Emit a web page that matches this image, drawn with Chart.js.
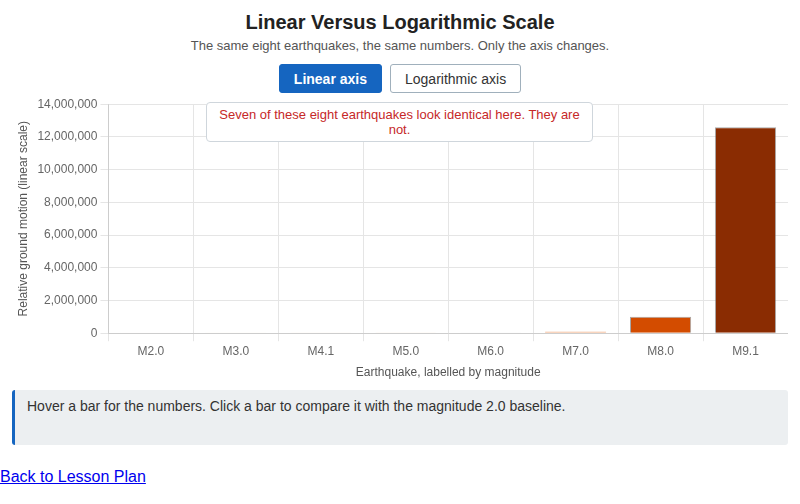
<!DOCTYPE html>
<html>
<head>
<meta charset="utf-8">
<script src="https://cdn.jsdelivr.net/npm/chart.js@4"></script>
<style>
  body { margin: 0; font-family: "Liberation Sans", Arial, sans-serif; color: #222; background: #fff; }
  .wrap { width: 776px; margin: 0 auto; padding: 0 12px; }
  h1 { font-size: 20px; margin: 10px 0 0; text-align: center; line-height: 24px; }
  .sub { font-size: 13px; color: #555; text-align: center; margin: 4px 0 0; line-height: 16px; }
  .btns { text-align: center; margin-top: 10px; height: 30px; }
  .btns button { font-family: inherit; font-size: 14px; height: 29px; padding: 0 14px; border-radius: 3px; margin: 0 4px; cursor: pointer; }
  .btns .on { background: #1565c0; color: #fff; border: 1px solid #1565c0; font-weight: bold; }
  .btns .off { background: #fff; color: #333; border: 1px solid #a0b0bc; }
  .chartBox { position: relative; height: 290px; margin-top: 0; }
  .note { position: absolute; left: 194px; top: 8px; width: 387px; box-sizing: border-box; background: #fff;
          border: 1px solid #cfd6dc; border-radius: 4px; color: #c62828; font-size: 13px; text-align: center;
          padding: 4px 10px; line-height: 15px; }
  .info { margin-top: 6px; background: #eceff1; border-left: 3px solid #1565c0; border-radius: 3px;
          font-size: 14px; color: #333; padding: 8px 12px 8px; height: 39px; }
  a { display: block; margin-top: 23px; font-size: 16px; color: #00e; }
</style>
</head>
<body>
<div class="wrap">
  <h1>Linear Versus Logarithmic Scale</h1>
  <p class="sub">The same eight earthquakes, the same numbers. Only the axis changes.</p>
  <div class="btns"><button class="on">Linear axis</button><button class="off">Logarithmic axis</button></div>
  <div class="chartBox">
    <canvas id="quakeChart"></canvas>
    <div class="note">Seven of these eight earthquakes look identical here. They are not.</div>
  </div>
  <div class="info">Hover a bar for the numbers. Click a bar to compare it with the magnitude 2.0 baseline.</div>
</div>
<a href="#">Back to Lesson Plan</a>
<script>
// 지진 규모 라벨과 상대 지반 운동 값
const magnitudes = ['M2.0', 'M3.0', 'M4.1', 'M5.0', 'M6.0', 'M7.0', 'M8.0', 'M9.1'];
const groundMotion = [1, 10, 126, 1000, 10000, 100000, 1000000, 12590000];
const barColors = ['#fff0e2', '#fee4cf', '#fdd6b8', '#fcc8a3', '#f8bb95', '#f5a878', '#d34c00', '#8a2c02'];
const barBorders = ['#ddd', '#ddd', '#ddd', '#ddd', '#ddd', '#f0b590', 'rgba(110,110,110,0.6)', 'rgba(110,110,110,0.6)'];
const yTicks = [0, 2000000, 4000000, 6000000, 8000000, 10000000, 12000000, 14000000];

const ctx = document.getElementById('quakeChart');
new Chart(ctx, {
  type: 'bar',
  data: {
    labels: magnitudes,
    datasets: [{
      data: groundMotion,
      backgroundColor: barColors,
      borderColor: barBorders,
      borderWidth: 1
    }]
  },
  options: {
    responsive: true,
    maintainAspectRatio: false,
    animation: false,
    layout: { padding: { top: 2, right: 0 } },
    plugins: {
      legend: { display: false },
      tooltip: { enabled: true }
    },
    scales: {
      x: {
        ticks: { color: '#666', font: { size: 12 } },
        grid: { color: '#e5e5e5' },
        title: { display: true, text: 'Earthquake, labelled by magnitude', color: '#555', font: { size: 12 } }
      },
      y: {
        min: 0,
        max: yTicks[yTicks.length - 1],
        afterBuildTicks: axis => { axis.ticks = yTicks.map(v => ({ value: v })); },
        ticks: { color: '#666', font: { size: 12 }, callback: v => Number(v).toLocaleString('en-US') },
        grid: { color: '#e5e5e5' },
        title: { display: true, text: 'Relative ground motion (linear scale)', color: '#555', font: { size: 12 } }
      }
    }
  }
});
</script>
</body>
</html>
